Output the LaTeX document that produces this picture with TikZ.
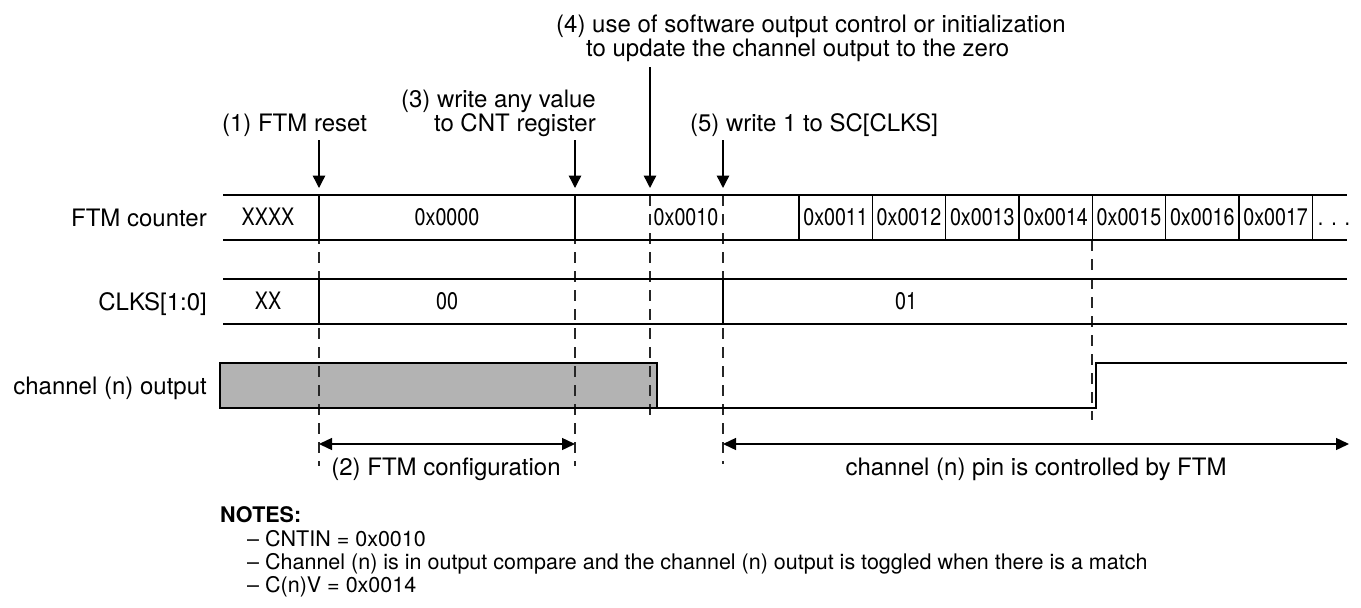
\documentclass[tikz,border=0pt]{standalone}
\usepackage{fontspec}
\setmainfont{TeX Gyre Heros}
\newfontfamily\narrowfont{TeX Gyre Heros}[FakeStretch=0.82]
\usetikzlibrary{arrows.meta}
\definecolor{boxgray}{HTML}{B3B3B3}
\begin{document}
\begin{tikzpicture}[x=1pt,y=-1pt,
  lbl/.style={font=\fontsize{24}{28}\selectfont, inner sep=0pt, anchor=base},
  rowlbl/.style={font=\fontsize{24}{28}\selectfont, inner sep=0pt, anchor=base east},
  val/.style={font=\narrowfont\fontsize{24}{28}\selectfont, inner sep=0pt, anchor=base},
  note/.style={font=\fontsize{21.5}{25}\selectfont, inner sep=0pt, anchor=base west},
  sig/.style={line width=1.4pt},
  guide/.style={line width=1.2pt, dash pattern=on 11pt off 8pt, black!85},
  evarrow/.style={line width=1.4pt, -{Triangle[length=12.5pt,width=12.5pt]}},
  spanarrow/.style={line width=1.4pt, {Triangle[length=13pt,width=12pt]}-{Triangle[length=13pt,width=12pt]}},
]
\useasboundingbox (0,0) rectangle (1361,608);

% ---------- top labels ----------
\node[lbl] (l1) at (294.5,131) {(1) FTM reset};
\node[lbl, anchor=base east] (l3a) at (596,107) {(3) write any value};
\node[lbl, anchor=base east] (l3b) at (596,131) {to CNT register};
\node[lbl, anchor=base west] (l4a) at (556,32) {(4) use of software output control or initialization};
\node[lbl, anchor=base west] (l4b) at (586,56) {to update the channel output to the zero};
\node[lbl] (l5) at (814,131) {(5) write 1 to SC[CLKS]};

% ---------- event arrows ----------
\coordinate (a1s) at (319,140); \coordinate (a1e) at (319,188);
\coordinate (a3s) at (575,140); \coordinate (a3e) at (575,188);
\coordinate (a4s) at (650,67);  \coordinate (a4e) at (650,188);
\coordinate (a5s) at (723,140); \coordinate (a5e) at (723,188);
\draw[evarrow] (a1s) -- (a1e);
\draw[evarrow] (a3s) -- (a3e);
\draw[evarrow] (a4s) -- (a4e);
\draw[evarrow] (a5s) -- (a5e);

% ---------- row labels ----------
\node[rowlbl] (r1) at (207,226) {FTM counter};
\node[rowlbl] (r2) at (207,310) {CLKS[1:0]};
\node[rowlbl] (r3) at (207,394) {channel (n) output};

% ---------- channel output gray box ----------
\fill[boxgray] (220,363) rectangle (657,408);

% ---------- dashed guides ----------
\coordinate (g1s) at (319,195); \coordinate (g1e) at (319,466);
\coordinate (g3s) at (575,195); \coordinate (g3e) at (575,466);
\coordinate (g4s) at (650,195); \coordinate (g4e) at (650,420);
\coordinate (g5s) at (723,195); \coordinate (g5e) at (723,464);
\coordinate (gts) at (1092,240); \coordinate (gte) at (1092,420);
\draw[guide] (g1s) -- (g1e);
\draw[guide] (g3s) -- (g3e);
\draw[guide] (g4s) -- (g4e);
\draw[guide] (g5s) -- (g5e);
\draw[guide] (gts) -- (gte);

% ---------- channel output waveform ----------
\draw[sig] (220,363) rectangle (657,408);
\draw[sig] (657,408) -- (1096,408) -- (1096,363) -- (1347,363);

% ---------- FTM counter row ----------
\draw[sig] (223,195) -- (1347,195);
\draw[sig] (223,240) -- (1347,240);
\foreach \xx in {319,575,799,872.3,945.6,1019,1092.3,1165.6,1239,1312.3}
  \draw[sig] (\xx,195) -- (\xx,240);
\node[val] (c0) at (268,225.5) {XXXX};
\node[val] (c1) at (447,225.5) {0x0000};
\node[val] (c2) at (686,225.5) {0x0010};
\node[val] (c3) at (835.6,225.5) {0x0011};
\node[val] (c4) at (909,225.5) {0x0012};
\node[val] (c5) at (982.3,225.5) {0x0013};
\node[val] (c6) at (1055.6,225.5) {0x0014};
\node[val] (c7) at (1129,225.5) {0x0015};
\node[val] (c8) at (1202.3,225.5) {0x0016};
\node[val] (c9) at (1275.6,225.5) {0x0017};
\node[val] (c10) at (1334,225.5) {.\,\,.\,\,.};

% ---------- CLKS row ----------
\draw[sig] (223,279) -- (1347,279);
\draw[sig] (223,324) -- (1347,324);
\draw[sig] (319,279) -- (319,324);
\draw[sig] (723,279) -- (723,324);
\node[val] (k0) at (268,309.5) {XX};
\node[val] (k1) at (447,309.5) {00};
\node[val] (k2) at (906,309.5) {01};

% ---------- span arrows ----------
\coordinate (s1a) at (319,444); \coordinate (s1b) at (575,444);
\coordinate (s2a) at (723,444); \coordinate (s2b) at (1349,444);
\draw[spanarrow] (s1a) -- (s1b);
\draw[spanarrow] (s2a) -- (s2b);
\node[lbl] (t2) at (446,475) {(2) FTM configuration};
\node[lbl] (tc) at (1036,475) {channel (n) pin is controlled by FTM};

% ---------- notes ----------
\node[note, font=\fontsize{21.5}{25}\selectfont\bfseries] (n0) at (220,522) {NOTES:};
\node[note] (n1) at (247,546) {– CNTIN = 0x0010};
\node[note] (n2) at (247,569) {– Channel (n) is in output compare and the channel (n) output is toggled when there is a match};
\node[note] (n3) at (247,592) {– C(n)V = 0x0014};
\end{tikzpicture}
\end{document}
